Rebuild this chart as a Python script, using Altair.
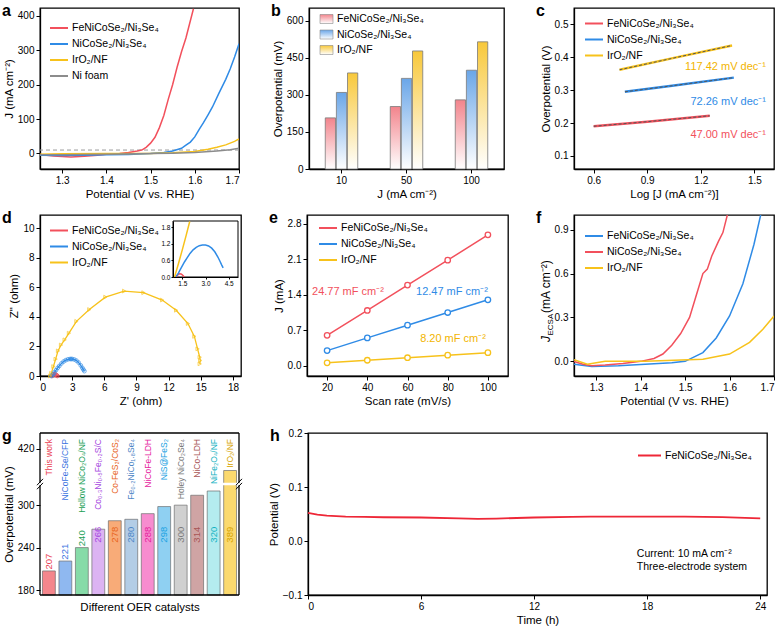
import altair as alt
import pandas as pd

FONT = "Liberation Sans"
RED = "#f2505c"
BLUE = "#2f8be6"
YEL = "#f7c21b"
GRAY = "#8c8c8c"
FE = "FeNiCoSe₂/Ni₃Se₄"
NICO = "NiCoSe₂/Ni₃Se₄"
IRO = "IrO₂/NF"
NIF = "Ni foam"

# ---------------- data ----------------
# (a) LSV
a_fe_v = [1.25, 1.28, 1.30, 1.32, 1.35, 1.38, 1.40, 1.43, 1.45, 1.47, 1.48, 1.49, 1.50, 1.51, 1.52, 1.53, 1.54, 1.55, 1.56, 1.57, 1.58, 1.59, 1.597]
a_fe_j = [-3, -7, -9, -10, -8, -5, -2, 0, 3, 7, 10, 18, 30, 47, 75, 110, 157, 200, 250, 295, 335, 385, 420]
a_nico_v = [1.25, 1.30, 1.35, 1.40, 1.45, 1.50, 1.53, 1.55, 1.57, 1.58, 1.59, 1.60, 1.61, 1.62, 1.63, 1.64, 1.655, 1.67, 1.68, 1.69, 1.70]
a_nico_j = [-5, -6, -5, -4, -3, 0, 3, 7, 15, 24, 33, 48, 70, 90, 112, 135, 176, 215, 245, 280, 318]
a_iro_v = [1.25, 1.30, 1.40, 1.50, 1.55, 1.60, 1.63, 1.65, 1.67, 1.69, 1.70]
a_iro_j = [-2, -1, 0, 0, 2, 6, 12, 18, 25, 35, 42]
a_nif_v = [1.25, 1.30, 1.40, 1.50, 1.55, 1.60, 1.65, 1.68, 1.70]
a_nif_j = [-4, -4, -2, 0, 1, 3, 7, 11, 15]

# (b) overpotentials
b_j = ["10", "50", "100"]
b_fe = [207, 253, 280]
b_nico = [310, 367, 400]
b_iro = [389, 478, 515]

# (c) Tafel
c_fe_x = [0.60, 0.90, 1.25]
c_fe_y = [0.190, 0.204, 0.222]
c_nico_x = [0.775, 1.05, 1.385]
c_nico_y = [0.295, 0.314, 0.338]
c_iro_x = [0.745, 1.05, 1.375]
c_iro_y = [0.362, 0.398, 0.436]

# (d) Nyquist
d_iro_re = [0.95, 1.05, 1.25, 1.46, 1.68, 1.96, 2.3, 2.7, 3.4, 4.6, 6.1, 7.85, 9.65, 11.4, 12.7, 13.8, 14.4, 14.7, 14.9, 14.95, 14.9]
d_iro_im = [0.0, 0.18, 0.64, 1.14, 1.7, 2.1, 2.45, 2.9, 3.7, 4.5, 5.34, 5.75, 5.64, 5.14, 4.45, 3.55, 2.68, 1.84, 1.27, 1.05, 0.82]
d_nico_re = [1.05, 1.15, 1.25, 1.35, 1.5, 1.65, 1.8, 2.0, 2.2, 2.4, 2.6, 2.8, 2.9, 3.0, 3.2, 3.4, 3.6, 3.8, 3.95, 4.05, 4.14]
d_nico_im = [0.0, 0.06, 0.14, 0.25, 0.4, 0.55, 0.68, 0.85, 0.98, 1.07, 1.13, 1.15, 1.15, 1.15, 1.12, 1.04, 0.91, 0.72, 0.55, 0.43, 0.33]
d_fe_re = [1.13, 1.2, 1.27, 1.34, 1.42, 1.5, 1.57, 1.62]
d_fe_im = [0.0, 0.07, 0.11, 0.12, 0.11, 0.08, 0.04, 0.0]
d_inset_iro_re = [1.0, 1.25, 1.5, 1.75, 1.98]
d_inset_iro_im = [0.0, 0.48, 0.98, 1.5, 2.0]

# (e) capacitance
e_scan = [20, 40, 60, 80, 100]
e_fe = [0.60, 1.09, 1.59, 2.08, 2.58]
e_nico = [0.30, 0.55, 0.80, 1.05, 1.30]
e_iro = [0.06, 0.11, 0.16, 0.21, 0.26]

# (f) ECSA-normalised LSV (legend as in original figure)
f_red_v = [1.25, 1.27, 1.29, 1.32, 1.36, 1.40, 1.43, 1.45, 1.47, 1.49, 1.51, 1.525, 1.54, 1.55, 1.56, 1.575, 1.585, 1.595]
f_red_j = [0.0, -0.02, -0.03, -0.025, -0.015, 0.0, 0.02, 0.05, 0.11, 0.19, 0.30, 0.45, 0.60, 0.63, 0.72, 0.82, 0.88, 1.0]
f_blue_v = [1.25, 1.29, 1.35, 1.41, 1.47, 1.50, 1.54, 1.57, 1.60, 1.63, 1.655, 1.67]
f_blue_j = [-0.02, -0.035, -0.03, -0.02, -0.01, 0.0, 0.06, 0.16, 0.31, 0.53, 0.80, 1.0]
f_yel_v = [1.25, 1.28, 1.32, 1.41, 1.54, 1.60, 1.645, 1.675, 1.70]
f_yel_j = [0.012, -0.02, 0.0, 0.0, 0.014, 0.05, 0.13, 0.22, 0.31]

# (g) comparison
g_cats = ["This work", "NiCoFe-Se/CFP", "Hollow NiCo₂O₄/NF", "Co₀.₃Ni₀.₅Fe₀.₂S/C", "Co-FeS₂/CoS₂",
          "Fe₀.₂NiCo₁.₈Se₄", "NiCoFe-LDH", "NiS@FeS₂", "Holey NiCo₂Se₄", "NiCo-LDH", "NiFe₂O₄/NF", "IrO₂/NF"]
g_vals = [207, 221, 240, 266, 278, 280, 288, 298, 300, 314, 320, 389]
g_bar_colors = ["#f4868c", "#8fb8f0", "#86dba8", "#dcb3f2", "#f8ab78", "#b3cde6",
                "#f78ccf", "#8fd0f2", "#d0d0d0", "#cfa4a4", "#b4ecef", "#fbd96e"]
g_text_colors = ["#ea3d4f", "#3a73e0", "#18a055", "#a546e0", "#e8641c", "#4d86c6",
                 "#e5239e", "#1aa2e2", "#7a7a7a", "#a85555", "#12b2c2", "#d6a400"]

# (h) stability
h_t = [0, 0.5, 1, 1.5, 2, 3, 4, 6, 8, 9, 10, 12, 14, 15, 16, 18, 20, 21, 22, 24]
h_p = [0.052, 0.049, 0.047, 0.046, 0.045, 0.0445, 0.044, 0.0435, 0.042, 0.041, 0.0415, 0.0435, 0.0448, 0.0453, 0.0453, 0.0453, 0.045, 0.0447, 0.0443, 0.042]

# ---------------- helpers ----------------
ONE = pd.DataFrame({"k": [0]})


def series_df(parts, xname, yname):
    frames = []
    for name, xs, ys in parts:
        frames.append(pd.DataFrame({xname: xs, yname: ys, "s": name, "i": list(range(len(xs)))}))
    return pd.concat(frames, ignore_index=True)


def letter(ch, x=-38, y=8):
    return alt.Chart(ONE).mark_text(text=ch, font=FONT, fontSize=16, fontWeight="bold", align="left",
                                    baseline="alphabetic", color="black").encode(x=alt.value(x), y=alt.value(y))


def note(txt, x, y, color, size=10.5, align="left"):
    return alt.Chart(ONE).mark_text(text=txt, font=FONT, fontSize=size, align=align, baseline="middle",
                                    color=color).encode(x=alt.datum(x), y=alt.datum(y))


def leg(x, y, size=324):
    return alt.Legend(orient="none", legendX=x, legendY=y, title=None, symbolType="stroke", symbolSize=size,
                      symbolStrokeWidth=2, labelFont=FONT, labelFontSize=10.5, labelOffset=3, rowPadding=0,
                      padding=0, labelColor="black")


def grad(c):
    return alt.Gradient(gradient="linear", stops=[alt.GradientStop(color=c, offset=0),
                                                  alt.GradientStop(color="#ffffff", offset=1)],
                        x1=0, x2=0, y1=0, y2=1)


def indep(ch):
    return ch.resolve_scale(color="independent", fill="independent", stroke="independent", shape="independent")


# ---------------- (a) ----------------
a_df = series_df([(FE, a_fe_v, a_fe_j), (NICO, a_nico_v, a_nico_j), (IRO, a_iro_v, a_iro_j), (NIF, a_nif_v, a_nif_j)], "V", "J")
ax = alt.X("V:Q", scale=alt.Scale(domain=[1.25, 1.7], nice=False),
           axis=alt.Axis(values=[1.3, 1.4, 1.5, 1.6, 1.7], format=".1f", title="Potential (V vs. RHE)"))
ay = alt.Y("J:Q", scale=alt.Scale(domain=[-45, 422], nice=False),
           axis=alt.Axis(values=[0, 100, 200, 300, 400], title="J (mA cm⁻²)"))
a_lines = alt.Chart(a_df).mark_line(strokeWidth=1.5, clip=True).encode(
    ax, ay, color=alt.Color("s:N", scale=alt.Scale(domain=[FE, NICO, IRO, NIF], range=[RED, BLUE, YEL, GRAY]),
                            legend=leg(9, 10)), order="i:Q")
a_rule = alt.Chart(ONE).mark_rule(color="#9a9a9a", strokeDash=[4, 3], strokeWidth=1).encode(y=alt.datum(10))
panel_a = alt.layer(a_rule, a_lines, letter("a")).properties(width=199, height=161)

# ---------------- (b) ----------------
b_df = pd.concat([pd.DataFrame({"J": b_j, "ov": vals, "s": name})
                  for name, vals in [(FE, b_fe), (NICO, b_nico), (IRO, b_iro)]], ignore_index=True)
bx = alt.X("J:N", sort=b_j, scale=alt.Scale(paddingInner=0.5, paddingOuter=0.25),
           axis=alt.Axis(labelAngle=0, title="J (mA cm⁻²)"))
by = alt.Y("ov:Q", scale=alt.Scale(domain=[0, 652], nice=False),
           axis=alt.Axis(values=[0, 150, 300, 450, 600], title="Overpotential (mV)"))
bxo = alt.XOffset("s:N", scale=alt.Scale(domain=[FE, NICO, IRO], paddingInner=0.08))
b_colors = {FE: "#f2848c", NICO: "#6aa6e8", IRO: "#f8c83a"}
b_layers = []
for name in [FE, NICO, IRO]:
    b_layers.append(alt.Chart(b_df).transform_filter(alt.datum.s == name).mark_bar(
        fill=grad(b_colors[name]), stroke="#7a7a7a", strokeWidth=0.8).encode(bx, by, bxo))
for k, name in enumerate([FE, NICO, IRO]):
    yc = 11 + 15.5 * k
    b_layers.append(alt.Chart(ONE).mark_rect(fill=grad(b_colors[name]), stroke="#8a8a8a", strokeWidth=0.6).encode(
        x=alt.value(11), x2=alt.value(24), y=alt.value(yc - 4.5), y2=alt.value(yc + 4.5)))
    b_layers.append(alt.Chart(ONE).mark_text(text=name, font=FONT, fontSize=10.5, align="left", baseline="middle",
                                             color="black").encode(x=alt.value(28), y=alt.value(yc)))
panel_b = alt.layer(*b_layers, letter("b")).properties(width=195, height=161)

# ---------------- (c) ----------------
c_df = series_df([(FE, c_fe_x, c_fe_y), (NICO, c_nico_x, c_nico_y), (IRO, c_iro_x, c_iro_y)], "lj", "eta")
cx = alt.X("lj:Q", scale=alt.Scale(domain=[0.49, 1.61], nice=False),
           axis=alt.Axis(values=[0.6, 0.9, 1.2, 1.5], format=".1f", title="Log [J (mA cm⁻²)]"))
cy = alt.Y("eta:Q", scale=alt.Scale(domain=[0.06, 0.55], nice=False),
           axis=alt.Axis(values=[0.1, 0.2, 0.3, 0.4, 0.5], format=".1f", title="Overpotential (V)"))
c_lines = alt.Chart(c_df).mark_line(strokeWidth=2.4).encode(
    cx, cy, color=alt.Color("s:N", scale=alt.Scale(domain=[FE, NICO, IRO], range=[RED, BLUE, YEL]),
                            legend=leg(10, 5.5)), order="i:Q")
c_fit = alt.Chart(c_df).mark_line(strokeWidth=1, strokeDash=[3, 2], color="#555555").encode(
    cx, cy, detail="s:N", order="i:Q")
panel_c = alt.layer(c_lines, c_fit,
                    note("117.42 mV dec⁻¹", 1.565, 0.371, "#f2b400", 11, "right"),
                    note("72.26 mV dec⁻¹", 1.565, 0.264, BLUE, 11, "right"),
                    note("47.00 mV dec⁻¹", 1.565, 0.163, RED, 11, "right"),
                    letter("c")).properties(width=200, height=161)

# ---------------- (d) ----------------
d_df = series_df([(FE, d_fe_re, d_fe_im), (NICO, d_nico_re, d_nico_im), (IRO, d_iro_re, d_iro_im)], "re", "im")
d_df["sp"] = d_df["s"]
dx = alt.X("re:Q", scale=alt.Scale(domain=[0, 18.75], nice=False),
           axis=alt.Axis(values=[0, 3, 6, 9, 12, 15, 18], title="Z' (ohm)"))
dy = alt.Y("im:Q", scale=alt.Scale(domain=[0, 10.9], nice=False),
           axis=alt.Axis(values=[0, 2, 4, 6, 8, 10], title='Z" (ohm)'))
d_lines = alt.Chart(d_df).mark_line(strokeWidth=1.3).encode(
    dx, dy, color=alt.Color("s:N", scale=alt.Scale(domain=[FE, NICO, IRO], range=[RED, BLUE, YEL]), legend=leg(9, 5.5)),
    order="i:Q")
d_pstroke = alt.Stroke("sp:N", scale=alt.Scale(domain=[FE, NICO, IRO], range=[RED, BLUE, YEL]), legend=None)
d_circ = alt.Chart(d_df).transform_filter(alt.datum.sp != IRO).mark_point(
    shape="circle", filled=False, size=14, strokeWidth=1).encode(dx, dy, stroke=d_pstroke)
d_tri = alt.Chart(d_df).transform_filter(alt.datum.sp == IRO).mark_point(
    shape="triangle-right", filled=False, size=14, strokeWidth=1).encode(dx, dy, stroke=d_pstroke)
d_main = alt.layer(d_lines, d_circ, d_tri, letter("d"))

d_in_df = series_df([(FE, d_fe_re, d_fe_im), (NICO, d_nico_re, d_nico_im), (IRO, d_inset_iro_re, d_inset_iro_im)], "re", "im")
d_in_df["sp"] = d_in_df["s"]
ix = alt.X("re:Q", scale=alt.Scale(domain=[0.9, 5.1], range=[133, 198], nice=False),
           axis=alt.Axis(orient="bottom", offset=-99, values=[1.5, 3.0, 4.5], format=".1f", labelFontSize=6.5,
                         tickSize=2, labelPadding=1, title=None, domainWidth=1, zindex=1))
iy = alt.Y("im:Q", scale=alt.Scale(domain=[0, 2.02], range=[62, 6], nice=False),
           axis=alt.Axis(orient="left", offset=-133, values=[0, 0.6, 1.2, 1.8], format=".1f", labelFontSize=6.5,
                         tickSize=2, labelPadding=1, title=None, domainWidth=1, zindex=1))
d_frame = alt.Chart(ONE).mark_rect(fill="white", stroke="black", strokeWidth=1).encode(
    x=alt.value(133), x2=alt.value(198), y=alt.value(6), y2=alt.value(62))
d_in_lines = alt.Chart(d_in_df).mark_line(strokeWidth=1.5).encode(ix, iy, stroke=d_pstroke, order="i:Q")
d_inset = alt.layer(d_frame, d_in_lines)
panel_d = alt.layer(d_main, d_inset).resolve_scale(x="independent", y="independent").properties(width=201, height=161)

# ---------------- (e) ----------------
e_df = series_df([(FE, e_scan, e_fe), (NICO, e_scan, e_nico), (IRO, e_scan, e_iro)], "sr", "cur")
ex = alt.X("sr:Q", scale=alt.Scale(domain=[10, 110], nice=False),
           axis=alt.Axis(values=[20, 40, 60, 80, 100], title="Scan rate (mV/s)"))
ey = alt.Y("cur:Q", scale=alt.Scale(domain=[-0.2, 2.97], nice=False),
           axis=alt.Axis(values=[0, 0.7, 1.4, 2.1, 2.8], format=".1f", title="J (mA)"))
e_lines = alt.Chart(e_df).mark_line(strokeWidth=1.5, point=alt.OverlayMarkDef(filled=False, fill="white", size=30, strokeWidth=1.3)).encode(
    ex, ey, color=alt.Color("s:N", scale=alt.Scale(domain=[FE, NICO, IRO], range=[RED, BLUE, YEL]), legend=leg(11, 3)),
    order="i:Q")
panel_e = alt.layer(e_lines,
                    note("24.77 mF cm⁻²", 12.5, 1.45, RED, 11, "left"),
                    note("12.47 mF cm⁻²", 100, 1.45, BLUE, 11, "right"),
                    note("8.20 mF cm⁻²", 99, 0.53, "#f2b400", 11, "right"),
                    letter("e")).properties(width=201, height=161)

# ---------------- (f) ----------------
f_df = series_df([(FE, f_blue_v, f_blue_j), (NICO, f_red_v, f_red_j), (IRO, f_yel_v, f_yel_j)], "V", "J")
fx = alt.X("V:Q", scale=alt.Scale(domain=[1.25, 1.7], nice=False),
           axis=alt.Axis(values=[1.3, 1.4, 1.5, 1.6, 1.7], format=".1f", title="Potential (V vs. RHE)"))
fy = alt.Y("J:Q", scale=alt.Scale(domain=[-0.1, 1.0], nice=False),
           axis=alt.Axis(values=[0, 0.3, 0.6, 0.9], format=".1f", title=None))
f_lines = alt.Chart(f_df).mark_line(strokeWidth=1.5, clip=True).encode(
    fx, fy, color=alt.Color("s:N", scale=alt.Scale(domain=[FE, NICO, IRO], range=[BLUE, RED, YEL]), legend=leg(10, 11)),
    order="i:Q")


def ftitle(txt, x, y, size, style="normal"):
    return alt.Chart(ONE).mark_text(text=txt, font=FONT, fontSize=size, fontStyle=style, angle=270, align="left",
                                    baseline="alphabetic", color="black").encode(x=alt.value(x), y=alt.value(y))


panel_f = alt.layer(f_lines, ftitle("J", -24, 127, 12, "italic"), ftitle("ECSA", -21, 120.5, 8),
                    ftitle("(mA cm⁻²)", -24, 98, 12), letter("f")).properties(width=200, height=161)

# ---------------- (g) ----------------
g_df = pd.DataFrame({"cat": g_cats, "v": g_vals})
gx = alt.X("cat:N", sort=g_cats, scale=alt.Scale(paddingInner=0.22, paddingOuter=0.15),
           axis=alt.Axis(labels=False, ticks=False, domain=False, title="Different OER catalysts", titlePadding=6))
gys = alt.Scale(domain=[173, 402], nice=False)
g_base = alt.Chart(g_df).transform_calculate(yt="datum.v > 330 ? datum.v - 40 : datum.v",
                                             ly="min(datum.v + 2, 247)")
g_bars = g_base.mark_bar(stroke="#6e6e6e", strokeWidth=0.7).encode(
    gx, alt.Y("yt:Q", scale=gys, axis=alt.Axis(values=[180, 240, 300, 380],
                                              labelExpr="datum.value == 380 ? '420' : datum.label",
                                              title="Overpotential (mV)", domain=False)),
    y2=alt.datum(173),
    color=alt.Color("cat:N", scale=alt.Scale(domain=g_cats, range=g_bar_colors), legend=None))
g_fill = alt.Fill("cat:N", scale=alt.Scale(domain=g_cats, range=g_text_colors), legend=None)
g_vlab = g_base.mark_text(angle=270, align="left", baseline="middle", font=FONT, fontSize=9.5).encode(
    gx, y=alt.Y("ly:Q", scale=gys), text="v:Q", fill=g_fill)
g_names = g_base.mark_text(angle=270, align="right", baseline="middle", font=FONT, fontSize=8.5).encode(
    gx, y=alt.datum(393.5), text="cat:N", fill=g_fill)


def grule(x1, x2, y1, y2, w=1.3):
    return alt.Chart(ONE).mark_rule(color="black", strokeWidth=w).encode(
        x=alt.value(x1), x2=alt.value(x2), y=alt.datum(y1), y2=alt.datum(y2))


GW = 199
g_gap = alt.Chart(ONE).mark_rect(fill="white").encode(x=alt.value(0), x2=alt.value(GW), y=alt.datum(328.2), y2=alt.datum(331.5))
g_frame = [grule(0, 0, 173, 328.2), grule(0, 0, 331.5, 402), grule(GW, GW, 173, 328.2), grule(GW, GW, 331.5, 402),
           grule(0, GW, 402, 402), grule(0, GW, 173, 173)]
g_breaks = [grule(-3, 3, 322.5, 331.5, 1), grule(-3, 3, 328.2, 337.2, 1),
            grule(GW - 3, GW + 3, 322.5, 331.5, 1), grule(GW - 3, GW + 3, 328.2, 337.2, 1)]
panel_g = alt.layer(g_bars, g_gap, g_vlab, g_names, *g_frame, *g_breaks, letter("g")).properties(
    width=GW, height=162, view=alt.ViewBackground(stroke="transparent"))

# ---------------- (h) ----------------
h_df = pd.DataFrame({"t": h_t, "p": h_p, "s": FE})
hx = alt.X("t:Q", scale=alt.Scale(domain=[0, 24.36], nice=False),
           axis=alt.Axis(values=[0, 6, 12, 18, 24], title="Time (h)"))
hy = alt.Y("p:Q", scale=alt.Scale(domain=[-0.1, 0.2], nice=False),
           axis=alt.Axis(values=[-0.1, 0, 0.1, 0.2], format=".1f", title="Potential (V)"))
h_line = alt.Chart(h_df).mark_line(strokeWidth=1.8).encode(
    hx, hy, color=alt.Color("s:N", scale=alt.Scale(domain=[FE], range=["#ee2737"]), legend=leg(329, 10, 529)))
panel_h = alt.layer(h_line,
                    note("Current: 10 mA cm⁻²", 17.45, -0.024, "black", 10.5),
                    note("Three-electrode system", 17.45, -0.049, "black", 10.5),
                    letter("h")).properties(width=459, height=162)

# ---------------- layout ----------------
row1 = indep(alt.hconcat(panel_a, panel_b, panel_c, spacing=70, bounds="flush"))
row2 = indep(alt.hconcat(panel_d, panel_e, panel_f, spacing=66, bounds="flush"))
row3 = indep(alt.hconcat(panel_g, panel_h, spacing=69, bounds="flush"))

chart = indep(alt.vconcat(row1, indep(alt.vconcat(row2, row3, spacing=19)), spacing=8)).properties(
    padding={"left": 1, "top": 2, "right": 0, "bottom": 0}
).configure(font=FONT).configure_view(stroke="black", strokeWidth=1.3).configure_axis(
    labelFont=FONT, titleFont=FONT, labelFontSize=10, titleFontSize=11.5, titleFontWeight="normal",
    labelColor="black", titleColor="black", tickColor="black", domainColor="black", domainWidth=1.3,
    tickWidth=1, tickSize=4, grid=False, labelPadding=2, titlePadding=3)

chart.save("out.html", embed_options={"renderer": "svg", "actions": False})
